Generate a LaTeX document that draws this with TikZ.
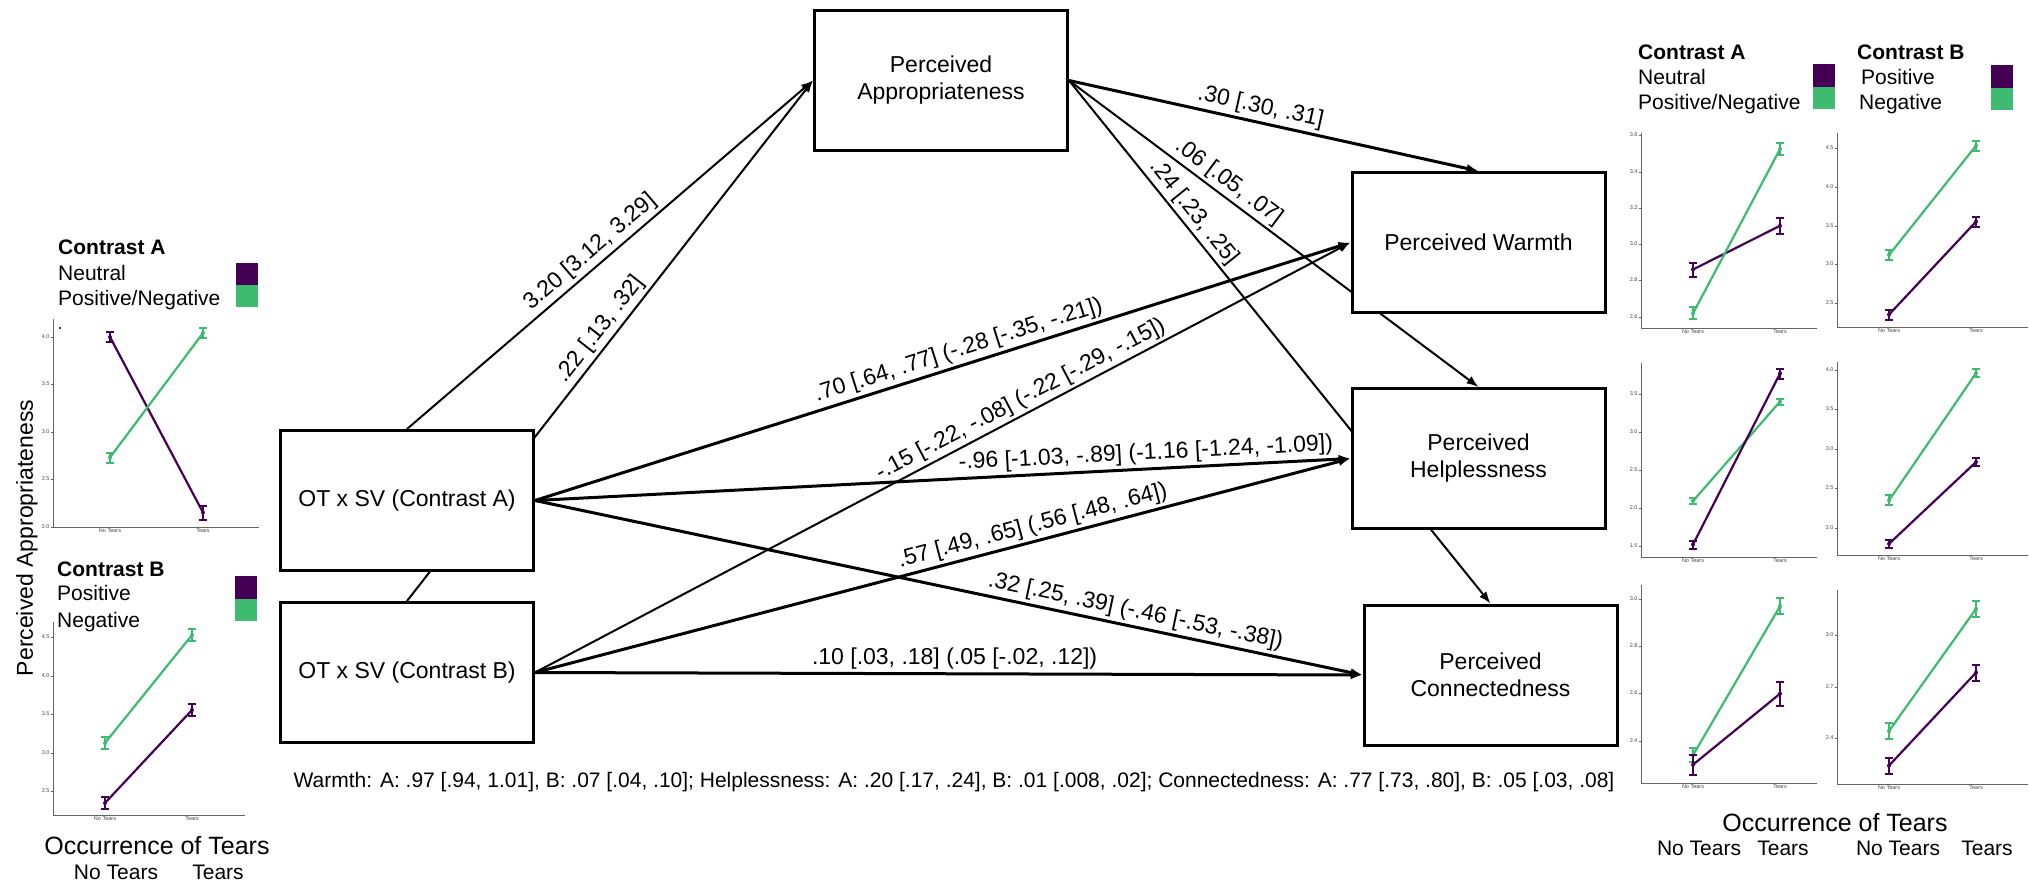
\documentclass[tikz,border=0pt]{standalone}
\usepackage{fontspec}
\setmainfont{Liberation Sans}
\usetikzlibrary{arrows.meta, backgrounds}
\definecolor{vpurple}{RGB}{68,1,84}
\definecolor{vgreen}{RGB}{62,187,112}
\definecolor{axgrey}{RGB}{100,100,100}

\newcommand{\boxfont}{\fontsize{23}{27}\selectfont}
\newcommand{\legfont}{\fontsize{21}{25}\selectfont}
\newcommand{\tickfont}{\fontsize{5.5}{6}\selectfont}

% one mean with its error bar
\newcommand{\meanbar}[4]{%
  \draw[#1, line width=2pt] (#2,#3-#4) -- (#2,#3+#4)
    (#2-4,#3-#4) -- (#2+4,#3-#4) (#2-4,#3+#4) -- (#2+4,#3+#4);
  \fill[#1] (#2,#3) circle (2);}
% no tears -> tears line of one condition
\newcommand{\meanline}[7]{%
  \draw[#1, line width=2.2pt] (#2,#3) -- (#5,#6);
  \meanbar{#1}{#2}{#3}{#4}\meanbar{#1}{#5}{#6}{#7}}
% axes of one small panel
\newcommand{\tearaxes}[7]{%
  \draw[axisline] (#1,#3) -- (#1,#2) -- (#4,#2);
  \foreach \v/\y in {#7} {
    \draw[axisline] (#1-2.5,\y) -- (#1,\y);
    \node[ytick] at (#1-2.5,\y) {\v};
  }
  \node[xtick] at (#5,#2) {No Tears};
  \node[xtick] at (#6,#2) {Tears};}

\begin{document}
\begin{tikzpicture}[x=1pt, y=-1pt,
  box/.style={draw, line width=3pt, fill=white, minimum width=253pt,
              minimum height=140pt, align=center, font=\boxfont},
  link/.style={line width=3pt, -{Latex[length=12pt, width=9pt]}},
  thinlink/.style={link, line width=2pt},
  coef/.style={sloped, above, inner sep=3pt, font=\boxfont},
  axisline/.style={draw=axgrey, line width=1pt},
  ytick/.style={anchor=east, inner sep=0.8pt, font=\tickfont, text=axgrey!70!black},
  xtick/.style={anchor=north, inner sep=1.5pt, font=\tickfont, text=axgrey!70!black},
  legtitle/.style={anchor=base west, inner sep=0pt, font=\legfont\bfseries},
  legitem/.style={anchor=base west, inner sep=0pt, font=\legfont},
  axtitle/.style={anchor=base, inner sep=0pt, font=\fontsize{25}{30}\selectfont},
]
\useasboundingbox (0,0) rectangle (2029,883);

% path model
\node[box] (app)  at (941,80.5)    {Perceived\\Appropriateness};
\node[box] (warm) at (1478.5,242.5) {Perceived Warmth};
\node[box] (help) at (1478.5,458.5) {Perceived\\Helplessness};
\node[box] (conn) at (1490.5,675)  {Perceived\\Connectedness};
\node[box] (conA) at (407,500.5)   {OT x SV (Contrast A)};
\node[box] (conB) at (407,672.5)   {OT x SV (Contrast B)};

\begin{scope}[on background layer]
\fill[white] (0,0) rectangle (2029,883);
\draw[thinlink] (conA.north) -- node[coef, pos=.475] {3.20 [3.12, 3.29]} (app.west);
\draw[thinlink] (conB.north) -- node[coef, pos=.505] {.22 [.13, .32]} (app.west);
\draw[link] (app.east) -- node[coef, pos=.46] {.30 [.30, .31]} (warm.north);
\draw[thinlink] (app.east) -- node[coef, pos=.37] {.06 [.05, .07]} (help.north);
\draw[thinlink] (app.east) -- node[coef, pos=.27] {.24 [.23, .25]} (conn.north);
\draw[link] (conA.east) -- node[coef, pos=.525] {.70 [.64, .77] (-.28 [-.35, -.21])} (warm.west);
\draw[thinlink] (conB.east) -- node[coef, pos=.604] {-.15 [-.22, -.08] (-.22 [-.29, -.15])} (warm.west);
\draw[link] (conA.east) -- node[coef, pos=.75] {-.96 [-1.03, -.89] (-1.16 [-1.24, -1.09])} (help.west);
\draw[link] (conB.east) -- node[coef, pos=.615] {.57 [.49, .65] (.56 [.48, .64])} (help.west);
\draw[link] (conA.east) -- node[coef, pos=.722] {.32 [.25, .39] (-.46 [-.53, -.38])} (conn.west);
\draw[link] (conB.east) -- node[coef, pos=.507] {.10 [.03, .18] (.05 [-.02, .12])} (conn.west);
\end{scope}

\node[anchor=base, inner sep=0pt, font=\legfont] (note) at (954,787.5)
  {Warmth: A: .97 [.94, 1.01], B: .07 [.04, .10]; Helplessness: A: .20 [.17, .24], B: .01 [.008, .02]; Connectedness: A: .77 [.73, .80], B: .05 [.03, .08]};

% left panels: appropriateness
\node[legtitle] (ltA) at (58,254.5) {Contrast A};
\node[legitem] (lnA) at (58,280.5) {Neutral};
\node[legitem] (lpA) at (58,305.5) {Positive/Negative};
\fill[vpurple] (236,263) rectangle (258,285);
\fill[vgreen] (236,285) rectangle (258,307);
\tearaxes{53}{527}{319}{259}{110}{203}{4.0/337, 3.5/384, 3.0/432, 2.5/479, 2.0/527}
\fill (60,328) circle (1.2);
\meanline{vpurple}{110}{337}{5}{203}{512.5}{7}
\meanline{vgreen}{110}{457.5}{5}{203}{333}{5}

\node[legtitle] (ltB) at (57,576.5) {Contrast B};
\node[legitem] (lpB) at (57,600.5) {Positive};
\node[legitem] (lnB) at (57,627.5) {Negative};
\fill[vpurple] (235,576) rectangle (257,599);
\fill[vgreen] (235,599) rectangle (257,621);
\tearaxes{53}{815}{622}{245}{105}{192}{4.5/637, 4.0/676, 3.5/714, 3.0/753, 2.5/791}
\meanline{vgreen}{105}{743}{6}{192}{635}{6}
\meanline{vpurple}{105}{803}{6}{192}{710}{6}

\node[rotate=90, font=\fontsize{23}{27}\selectfont] (ylab) at (27,538) {Perceived Appropriateness};
\node[axtitle] (occL) at (157,854) {Occurrence of Tears};
\node[axtitle, font=\legfont] (ntL) at (116,879.5) {No Tears};
\node[axtitle, font=\legfont] (tL) at (218,879.5) {Tears};

% right panels: warmth, helplessness, connectedness
\node[legtitle] (rtA) at (1638,59.5) {Contrast A};
\node[legitem] (rnA) at (1638,84.5) {Neutral};
\node[legitem] (rpA) at (1638,109.5) {Positive/Negative};
\fill[vpurple] (1813,64) rectangle (1835,87);
\fill[vgreen] (1813,87) rectangle (1835,109);
\node[legtitle] (rtB) at (1857,59.5) {Contrast B};
\node[legitem] (rpB) at (1861,84.5) {Positive};
\node[legitem] (rnB) at (1859,109.5) {Negative};
\fill[vpurple] (1991,65) rectangle (2013,88);
\fill[vgreen] (1991,88) rectangle (2013,110);

\tearaxes{1641}{328}{133}{1817}{1693}{1780}{3.6/135, 3.4/172, 3.2/208, 3.0/244, 2.8/280, 2.6/317}
\meanline{vpurple}{1693}{269.5}{7}{1780}{225.8}{8}
\meanline{vgreen}{1693}{313.4}{6}{1780}{149.1}{6}
\tearaxes{1837}{327}{133}{2028}{1889}{1976}{4.5/148, 4.0/187, 3.5/226, 3.0/264, 2.5/303}
\meanline{vgreen}{1889}{255}{5}{1976}{145.7}{5}
\meanline{vpurple}{1889}{314.6}{5}{1976}{221.6}{5}

\tearaxes{1641}{557}{363}{1817}{1693}{1780}{3.5/394, 3.0/432, 2.5/470, 2.0/508, 1.5/546}
\meanline{vgreen}{1693}{501}{3}{1780}{401.6}{3}
\meanline{vpurple}{1693}{544.5}{4}{1780}{373.5}{5}
\tearaxes{1837}{555}{362}{2028}{1889}{1976}{4.0/370, 3.5/409, 3.0/449, 2.5/488, 2.0/528}
\meanline{vgreen}{1889}{500.4}{5}{1976}{373.2}{4}
\meanline{vpurple}{1889}{543.8}{4}{1976}{462}{4}

\tearaxes{1641}{783}{585}{1817}{1693}{1780}{3.0/599, 2.8/646, 2.6/693, 2.4/741}
\meanline{vgreen}{1693}{755.2}{7}{1780}{606.2}{8}
\meanline{vpurple}{1693}{764.7}{10}{1780}{693.7}{12}
\tearaxes{1837}{784}{590}{2028}{1889}{1976}{3.0/635, 2.7/687, 2.4/738}
\meanline{vgreen}{1889}{731}{8}{1976}{608.9}{8}
\meanline{vpurple}{1889}{765.6}{8}{1976}{672.6}{8}

\node[axtitle] (occR) at (1835,831) {Occurrence of Tears};
\node[axtitle, font=\legfont] (ntRA) at (1699,855.5) {No Tears};
\node[axtitle, font=\legfont] (tRA) at (1783,855.5) {Tears};
\node[axtitle, font=\legfont] (ntRB) at (1898,855.5) {No Tears};
\node[axtitle, font=\legfont] (tRB) at (1987,855.5) {Tears};
\end{tikzpicture}
\end{document}
